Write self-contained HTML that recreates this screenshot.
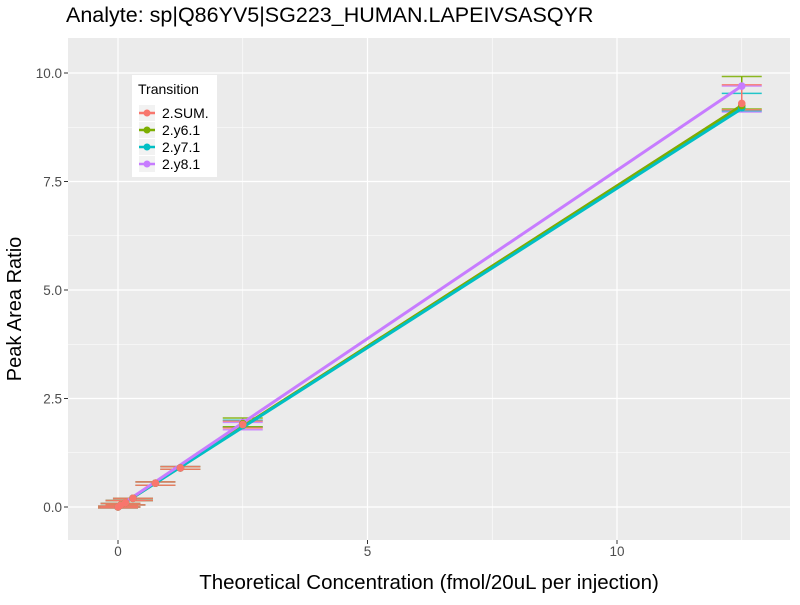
<!DOCTYPE html>
<html><head><meta charset="utf-8"><style>
body{margin:0;background:#fff;font-family:"Liberation Sans",sans-serif}
svg text{font-family:"Liberation Sans",sans-serif}
</style></head><body>
<svg id="c" width="800" height="600"></svg>
<script>
const seriesNames=["2.SUM.","2.y6.1","2.y7.1","2.y8.1"];
const seriesColors=["#F8766D","#7CAE00","#00BFC4","#C77CFF"];
const concentrations=[0,0.05,0.15,0.3,0.75,1.25,2.5,12.5];
const sumValues=[0,0.04,0.1,0.2,0.55,0.9,1.9,9.3];
const y61Values=[0,0.04,0.1,0.2,0.55,0.9,1.92,9.25];
const y71Values=[0,0.04,0.1,0.2,0.55,0.9,1.88,9.2];
const y81Values=[0,0.04,0.1,0.2,0.55,0.9,1.95,9.7];
const sumLo=[-0.02,0,0.05,0.15,0.5,0.87,1.82,9.15], sumHi=[0.02,0.08,0.15,0.2,0.58,0.93,1.98,9.73];
const y61Lo=[-0.02,0,0.05,0.15,0.5,0.87,1.85,9.17], y61Hi=[0.02,0.08,0.15,0.2,0.58,0.93,2.05,9.92];
const y71Lo=[-0.02,0,0.05,0.15,0.5,0.87,1.84,9.13], y71Hi=[0.02,0.08,0.15,0.2,0.58,0.93,2.0,9.53];
const y81Lo=[-0.02,0,0.05,0.15,0.5,0.87,1.78,9.1], y81Hi=[0.02,0.08,0.15,0.2,0.58,0.93,1.95,9.7];
const fitEnd=[9.25,9.25,9.18,9.7];
const xTicks=[0,5,10], yTicks=[0,2.5,5,7.5,10];
const yTickLabels=["0.0","2.5","5.0","7.5","10.0"];
const values=[sumValues,y61Values,y71Values,y81Values];
const los=[sumLo,y61Lo,y71Lo,y81Lo], his=[sumHi,y61Hi,y71Hi,y81Hi];
const L=68,R=790,T=38,B=540;
const xs=v=>118+v*49.9, ys=v=>507-v*43.4;
const svg=document.getElementById('c'), NS="http://www.w3.org/2000/svg";
function el(t,a,p){const e=document.createElementNS(NS,t);for(const k in a)e.setAttribute(k,a[k]);(p||svg).appendChild(e);return e;}
let e=el('rect',{x:L,y:T,width:R-L,height:B-T,fill:"#EBEBEB"});

for(let i=0;i<xTicks.length;i++){const m=xTicks[i]+2.5;if(xs(m)<R)el('line',{x1:xs(m),x2:xs(m),y1:T,y2:B,stroke:"#fff","stroke-width":0.6});}
for(let i=0;i<yTicks.length-1;i++){const m=yTicks[i]+1.25;el('line',{x1:L,x2:R,y1:ys(m),y2:ys(m),stroke:"#fff","stroke-width":0.6});}
xTicks.forEach(v=>{el('line',{x1:xs(v),x2:xs(v),y1:T,y2:B,stroke:"#fff","stroke-width":1.2});
 el('line',{x1:xs(v),x2:xs(v),y1:B,y2:B+4,stroke:"#333"});
 e=el('text',{x:xs(v),y:B+16,"text-anchor":"middle","font-size":13.5,fill:"#4d4d4d"});e.textContent=v;
 });
yTicks.forEach((v,i)=>{el('line',{x1:L,x2:R,y1:ys(v),y2:ys(v),stroke:"#fff","stroke-width":1.2});
 el('line',{x1:L-4,x2:L,y1:ys(v),y2:ys(v),stroke:"#333"});
 e=el('text',{x:L-6,y:ys(v)+5,"text-anchor":"end","font-size":13.5,fill:"#4d4d4d"});e.textContent=yTickLabels[i];
 });
for(let s=3;s>=0;s--){const g=el('g',{});
 const c=seriesColors[s];
 concentrations.forEach((x,i)=>{
  el('line',{x1:xs(x),x2:xs(x),y1:ys(los[s][i]),y2:ys(his[s][i]),stroke:c,"stroke-width":1.5},g);
  [los[s][i],his[s][i]].forEach(v=>el('line',{x1:xs(x)-20,x2:xs(x)+20,y1:ys(v),y2:ys(v),stroke:c,"stroke-width":1.5,opacity:0.85},g));
 });
}
for(let s=0;s<4;s++){e=el('line',{x1:xs(0),y1:ys(0),x2:xs(12.5),y2:ys(fitEnd[s]),stroke:seriesColors[s],"stroke-width":3});
 }
for(let s=3;s>=0;s--){concentrations.forEach((x,i)=>{e=el('circle',{cx:xs(x),cy:ys(values[s][i]),r:3.8,fill:seriesColors[s]});
 });}
e=el('text',{x:66,y:22,"font-size":21.5,fill:"#000"});e.textContent="Analyte: sp|Q86YV5|SG223_HUMAN.LAPEIVSASQYR";

e=el('text',{x:429,y:589,"text-anchor":"middle","font-size":20.5});e.textContent="Theoretical Concentration (fmol/20uL per injection)";

e=el('text',{x:21,y:309,"text-anchor":"middle","font-size":20,transform:"rotate(-90 21 309)"});e.textContent="Peak Area Ratio";

const lg=el('g',{});
el('rect',{x:132,y:75,width:85,height:102,fill:"#fff"},lg);
e=el('text',{x:138,y:94,"font-size":14},lg);e.textContent="Transition";
seriesNames.forEach((n,i)=>{const y=113+i*17;
 const g=el('g',{},lg);
 el('rect',{x:139,y:y-8,width:16,height:16,fill:"#F2F2F2"},g);
 el('line',{x1:139,x2:155,y1:y,y2:y,stroke:seriesColors[i],"stroke-width":2.5},g);
 el('circle',{cx:147,cy:y,r:3.5,fill:seriesColors[i]},g);
 const t=el('text',{x:162,y:y+5,"font-size":14},g);t.textContent=n;});
</script>
</body></html>
